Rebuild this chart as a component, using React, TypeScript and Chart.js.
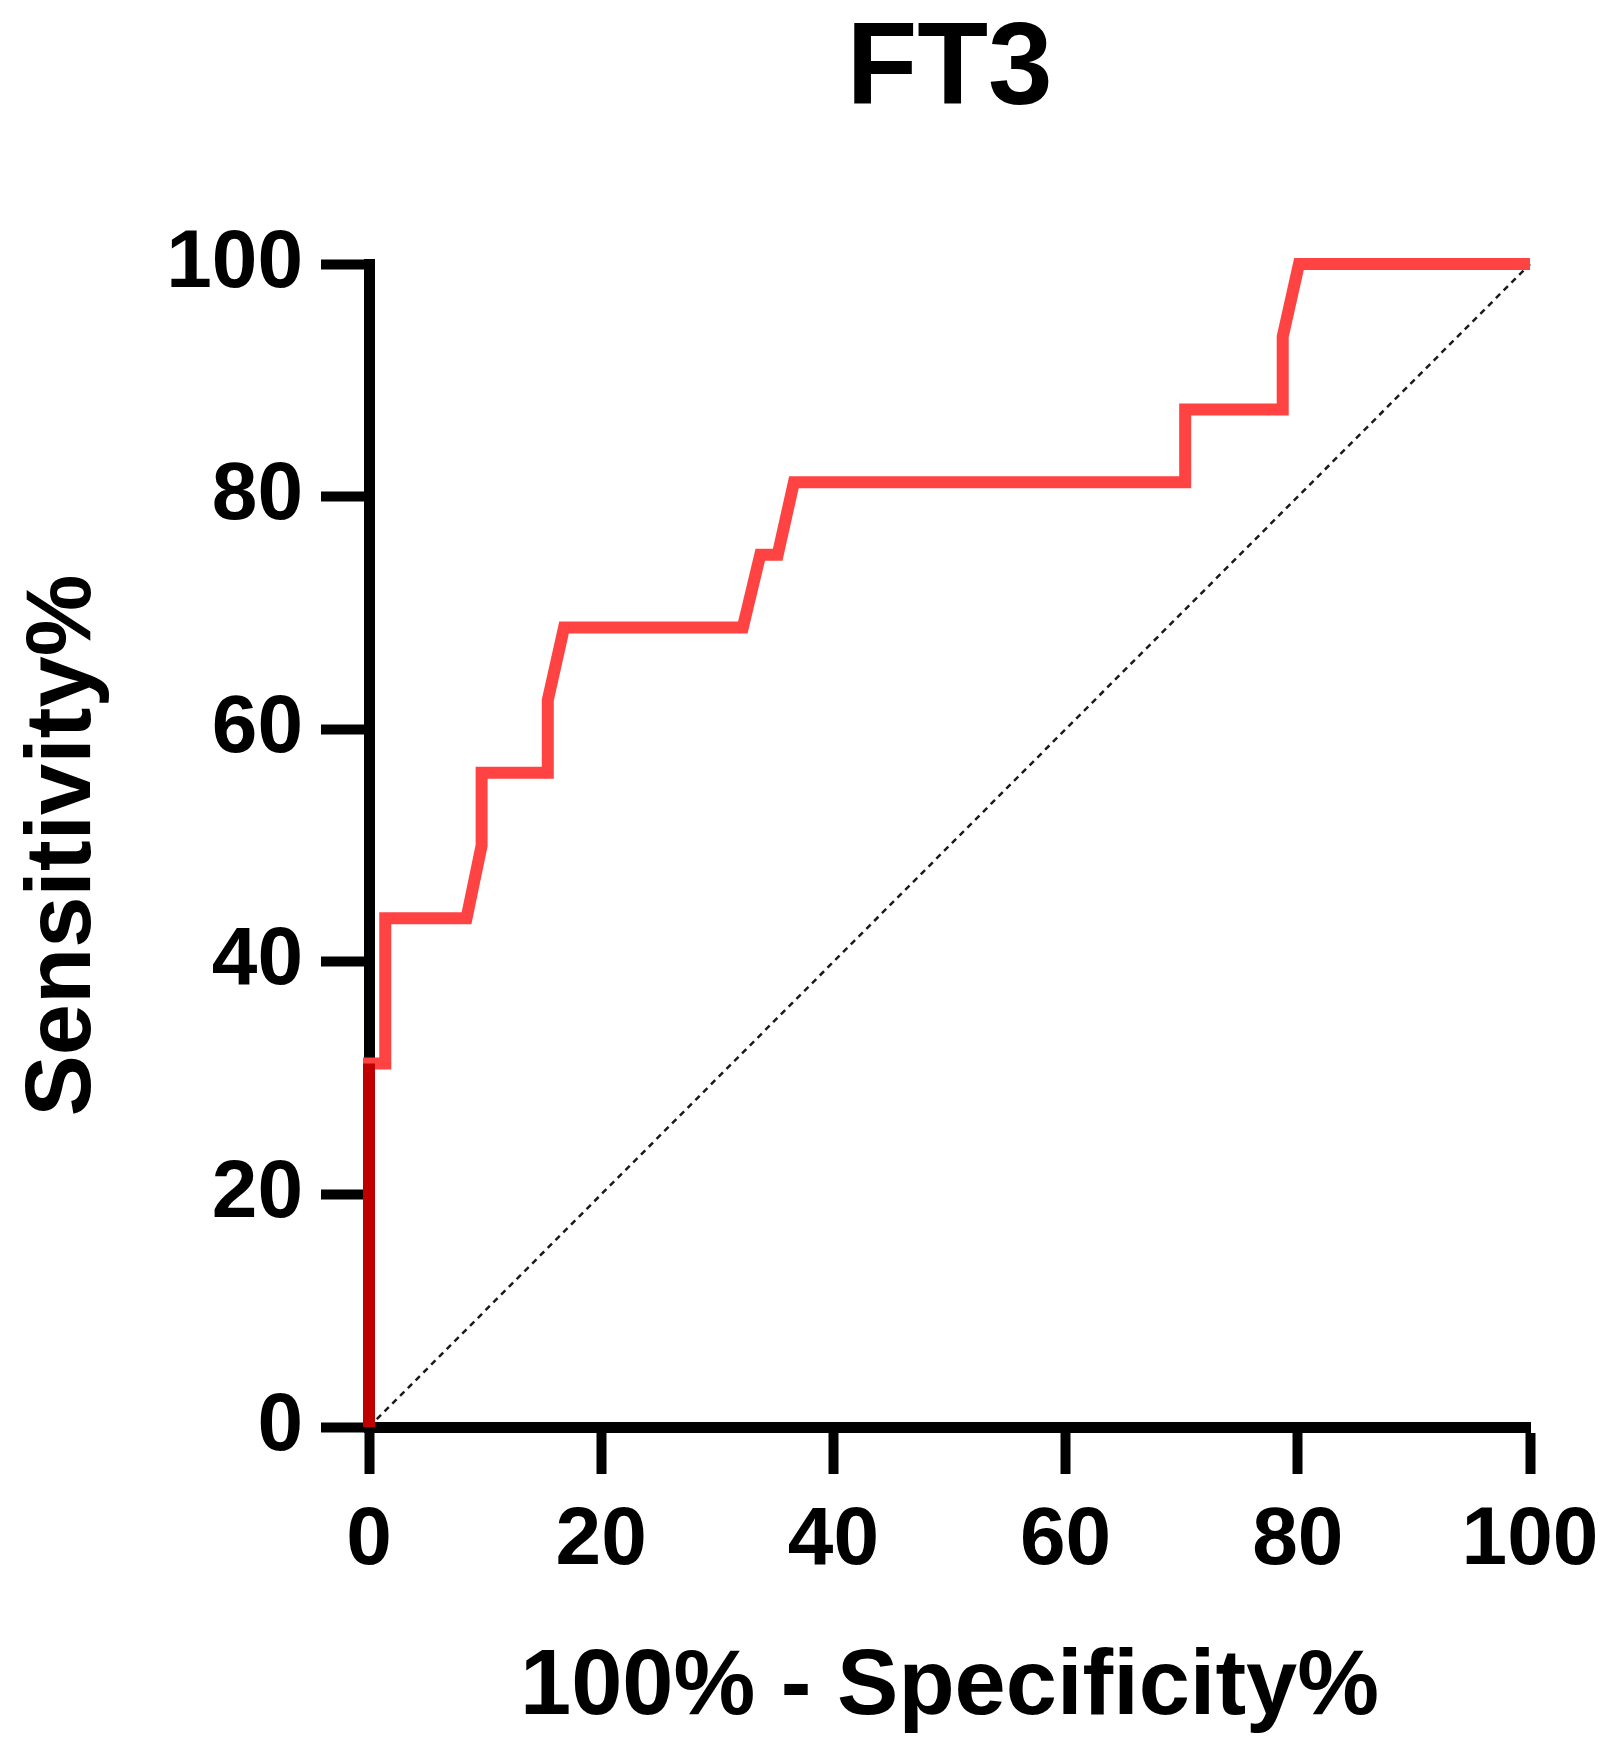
import { useEffect, useRef } from "react";
import { Chart, registerables } from "chart.js";

Chart.register(...registerables);

const chartTitle = "FT3";
const xAxisTitle = "100% - Specificity%";
const yAxisTitle = "Sensitivity%";

// ROC curve: 100% - specificity (x) and sensitivity (y)
const fpr = [0, 0, 1.4, 1.4, 8.4, 9.7, 9.7, 15.4, 15.4, 16.8, 32.2, 33.7, 35.2, 36.6, 70.3, 70.3, 78.7, 78.7, 80.1, 100];
const tpr = [0, 31.25, 31.25, 43.75, 43.75, 50, 56.25, 56.25, 62.5, 68.75, 68.75, 75, 75, 81.25, 81.25, 87.5, 87.5, 93.75, 100, 100];

// chance (reference) line
const refX = [0, 100];
const refY = [0, 100];

const axisMin = 0;
const axisMax = 100;
const axisStep = 20;

const FONT = "'Liberation Sans', Arial, Helvetica, sans-serif";

export default function App() {
  const ref = useRef<HTMLCanvasElement | null>(null);

  useEffect(() => {
    const canvas = ref.current;
    if (!canvas) return;
    const curve = fpr.map((x, i) => ({ x, y: tpr[i] }));
    const firstSeg = curve.slice(0, 2);
    const diag = refX.map((x, i) => ({ x, y: refY[i] }));

    const chart = new Chart(canvas, {
      type: "scatter",
      data: {
        datasets: [
          {
            data: diag,
            showLine: true,
            borderColor: "#1a1a1a",
            borderWidth: 2.5,
            borderDash: [6, 5],
            pointRadius: 0,
            order: 3,
            clip: false as any,
          },
          {
            data: curve,
            showLine: true,
            borderColor: "#FF4343",
            borderWidth: 12,
            borderJoinStyle: "miter",
            borderCapStyle: "butt",
            pointRadius: 0,
            order: 2,
            clip: false as any,
          },
          {
            data: firstSeg,
            showLine: true,
            borderColor: "#C00000",
            borderWidth: 12,
            borderCapStyle: "butt",
            pointRadius: 0,
            order: 1,
            clip: false as any,
          },
        ],
      },
      options: {
        animation: false,
        responsive: false,
        devicePixelRatio: 1,
        layout: { padding: { left: 0, right: 92, top: 0, bottom: 0 } },
        plugins: {
          legend: { display: false },
          tooltip: { enabled: false },
          title: {
            display: true,
            fullSize: false,
            text: chartTitle,
            color: "#000",
            font: { family: FONT, size: 116, weight: "bold", lineHeight: 1.13 },
            padding: { top: 6, bottom: 127 },
          },
        },
        scales: {
          x: {
            type: "linear",
            min: axisMin,
            max: axisMax,
            afterFit: (s: any) => {
              s.height = 336;
            },
            ticks: {
              stepSize: axisStep,
              color: "#000",
              padding: 18,
              maxRotation: 0,
              font: { family: FONT, size: 82, weight: "bold", lineHeight: 1.2 },
            },
            grid: {
              display: true,
              drawOnChartArea: false,
              drawTicks: true,
              tickLength: 47,
              tickWidth: 10,
              tickColor: "#000",
              color: "#000",
            },
            border: { display: true, color: "#000", width: 11 },
            title: {
              display: true,
              text: xAxisTitle,
              color: "#000",
              font: { family: FONT, size: 92, weight: "bold", lineHeight: 1.2 },
              padding: { top: 0, bottom: 19 },
            },
          },
          y: {
            type: "linear",
            min: axisMin,
            max: axisMax,
            afterFit: (s: any) => {
              s.width = 369;
            },
            ticks: {
              stepSize: axisStep,
              color: "#000",
              padding: 18,
              font: { family: FONT, size: 82, weight: "bold", lineHeight: 1.2 },
            },
            grid: {
              display: true,
              drawOnChartArea: false,
              drawTicks: true,
              tickLength: 48,
              tickWidth: 10,
              tickColor: "#000",
              color: "#000",
            },
            border: { display: true, color: "#000", width: 11 },
            title: {
              display: true,
              text: yAxisTitle,
              color: "#000",
              font: { family: FONT, size: 92, weight: "bold", lineHeight: 1.2 },
              padding: { top: 9, bottom: 0 },
            },
          },
        },
      } as any,
    });
    return () => chart.destroy();
  }, []);

  return (
    <div style={{ position: "absolute", left: 0, top: 0, width: 1622, height: 1763, background: "#fff" }}>
      <canvas ref={ref} width={1622} height={1763} style={{ width: 1622, height: 1763, display: "block" }} />
    </div>
  );
}
